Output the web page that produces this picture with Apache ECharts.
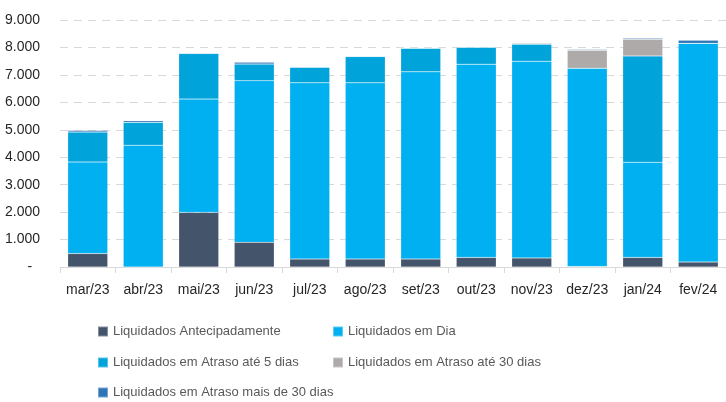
<!DOCTYPE html>
<html>
<head>
<meta charset="utf-8">
<script src="https://cdn.jsdelivr.net/npm/echarts@6/dist/echarts.min.js"></script>
<style>
  * { margin: 0; padding: 0; }
  body { background: #ffffff; }
  #chart { width: 726px; height: 402px; }
</style>
</head>
<body>
<div id="chart"></div>
<script>
// meses
var meses = ['mar/23', 'abr/23', 'mai/23', 'jun/23', 'jul/23', 'ago/23', 'set/23', 'out/23', 'nov/23', 'dez/23', 'jan/24', 'fev/24']

// valores
var antecipados = [490, 0, 1990, 900, 290, 290, 290, 350, 330, 15, 350, 180]
var emDia = [3340, 4440, 4130, 5890, 6420, 6420, 6820, 7040, 7170, 7230, 3470, 7970]
var atraso5 = [1090, 830, 1660, 610, 570, 960, 860, 620, 620, 0, 3870, 0]
var atraso30 = [0, 0, 20, 0, 0, 0, 0, 0, 30, 655, 610, 0]
var atrasoMais30 = [50, 60, 20, 60, 10, 20, 10, 10, 20, 25, 35, 110]

var nomes = ['Liquidados Antecipadamente', 'Liquidados em Dia', 'Liquidados em Atraso até 5 dias', 'Liquidados em Atraso até 30 dias', 'Liquidados em Atraso mais de 30 dias']
var cores = ['#44546a', '#00b0f0', '#00a3da', '#aeaaaa', '#2e75b6']
var dados = [antecipados, emDia, atraso5, atraso30, atrasoMais30]

var chart = echarts.init(document.getElementById('chart'))

var legendText = { color: '#595959', fontSize: 13, fontFamily: 'Liberation Sans' }
function legenda(itens, left, top) {
    return {
        data: itens,
        left: left,
        top: top,
        padding: 0,
        orient: 'vertical',
        itemWidth: 10,
        itemHeight: 10,
        itemGap: 0,
        icon: 'rect',
        textStyle: legendText,
        selectedMode: false
    }
}

var series = []
for (var i = 0; i < nomes.length; i++) {
    series.push({
        name: nomes[i],
        type: 'bar',
        stack: 'total',
        barCategoryGap: '28%',
        itemStyle: { color: cores[i], borderColor: 'rgba(255,255,255,0.35)', borderWidth: 0.5 },
        data: dados[i]
    })
}

var option = {
    animation: false,
    textStyle: { fontFamily: 'Liberation Sans' },
    legend: [
        legenda([nomes[0]], 97, 325),
        legenda([nomes[1]], 332, 325),
        legenda([nomes[2]], 97, 356),
        legenda([nomes[3]], 332, 356),
        legenda([nomes[4]], 97, 386)
    ],
    grid: { left: 60, right: 0, top: 20, bottom: 135 },
    xAxis: {
        type: 'category',
        data: meses,
        axisLine: { lineStyle: { color: '#d9d9d9' } },
        axisTick: { show: true, length: 6, lineStyle: { color: '#d9d9d9' } },
        axisLabel: { color: '#262626', fontSize: 14, margin: 16, interval: 0 }
    },
    yAxis: {
        type: 'value',
        min: 0,
        max: 9000,
        interval: 1000,
        axisLine: { show: false },
        axisTick: { show: false },
        splitLine: { lineStyle: { color: '#d9d9d9', type: [8, 6], width: 1 } },
        axisLabel: {
            color: '#262626',
            fontSize: 14,
            margin: 20,
            formatter: function (v) {
                if (v === 0) return '-  '
                return (v / 1000) + '.000'
            }
        }
    },
    series: series
}
chart.setOption(option)
</script>
</body>
</html>
